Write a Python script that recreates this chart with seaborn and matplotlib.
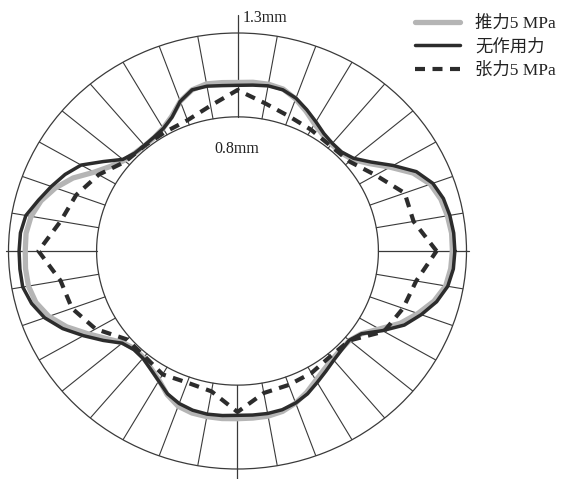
import numpy as np
import pandas as pd
import matplotlib
matplotlib.use("Agg")
import matplotlib.pyplot as plt
import seaborn as sns
from matplotlib.lines import Line2D

sns.set_style("white")
plt.rcParams['font.family'] = ['Liberation Serif', 'Noto Sans CJK SC']

# Film thickness (mm) around the circumference, angle measured counter-clockwise from +x
angles_fine = list(range(0, 360, 5))
push_5mpa = [
    1.22, 1.22, 1.21, 1.195, 1.165, 1.10, 1.00, 0.91, 0.85, 0.83, 0.83, 0.845,
    0.875, 0.92, 0.965, 1.00, 1.01, 1.01, 1.005, 1.008, 1.012, 0.995, 0.95, 0.885,
    0.845, 0.825, 0.82, 0.825, 0.84, 0.88, 0.94, 1.03, 1.10, 1.155, 1.19, 1.205,
    1.205, 1.208, 1.205, 1.185, 1.14, 1.07, 0.985, 0.91, 0.85, 0.825, 0.83, 0.855,
    0.89, 0.945, 0.985, 1.00, 1.003, 1.003, 1.00, 1.00, 1.00, 0.99, 0.965, 0.93,
    0.89, 0.86, 0.84, 0.83, 0.83, 0.86, 0.93, 1.02, 1.09, 1.155, 1.20, 1.215,
]
no_load = [
    1.234, 1.232, 1.224, 1.21, 1.18, 1.12, 1.02, 0.925, 0.86, 0.835, 0.838, 0.855,
    0.89, 0.93, 0.97, 0.995, 1.0, 0.993, 0.988, 0.99, 0.998, 0.995, 0.95, 0.88,
    0.843, 0.828, 0.822, 0.825, 0.85, 0.93, 1.025, 1.08, 1.125, 1.17, 1.22, 1.237,
    1.24, 1.24, 1.238, 1.21, 1.165, 1.095, 1.01, 0.93, 0.855, 0.832, 0.835, 0.86,
    0.895, 0.94, 0.968, 0.983, 0.988, 0.985, 0.98, 0.982, 0.984, 0.98, 0.965, 0.94,
    0.905, 0.875, 0.85, 0.835, 0.828, 0.86, 0.95, 1.045, 1.11, 1.17, 1.212, 1.23,
]
angles_coarse = list(range(0, 360, 10))
tension_5mpa = [
    1.13, 1.015, 1.01, 0.905, 0.83, 0.82, 0.835, 0.855, 0.895, 0.96, 0.88, 0.83,
    0.82, 0.82, 0.83, 0.91, 0.975, 1.02, 1.13, 1.02, 1.00, 0.93, 0.82, 0.82,
    0.85, 0.835, 0.85, 0.96, 0.86, 0.85, 0.84, 0.82, 0.83, 0.96, 1.00, 1.03,
]

series_labels = ["推力5 MPa", "无作用力", "张力5 MPa"]
r_inner, r_outer = 0.8, 1.3
spoke_step = 10


def closed_frame(angles_deg, radii):
    theta = np.deg2rad(list(angles_deg) + [angles_deg[0] + 360])
    r = list(radii) + [radii[0]]
    return pd.DataFrame({"theta": theta, "r": r})


W, H = 565, 479
fig = plt.figure(figsize=(W / 100, H / 100), dpi=100)
cx, cy = 237.5, 251.0
rx, ry = 229.0, 218.0
ax = fig.add_axes([(cx - rx) / W, (H - cy - ry) / H, 2 * rx / W, 2 * ry / H],
                  projection="polar")
ax.set_aspect("auto")
ax.set_ylim(0, r_outer)
ax.set_xticks([])
ax.set_yticks([])
ax.grid(False)
ax.spines["polar"].set_color("#3a3a3a")
ax.spines["polar"].set_linewidth(0.9)

grid_col = "#3a3a3a"
# inner reference circle
tt = np.linspace(0, 2 * np.pi, 721)
ax.plot(tt, np.full_like(tt, r_inner), color=grid_col, lw=0.9, zorder=1)
# radial spokes between the two circles
for a in range(0, 360, spoke_step):
    th = np.deg2rad(a)
    if a in (0, 90, 180, 270):
        continue
    ax.plot([th, th], [r_inner, r_outer], color=grid_col, lw=0.8, zorder=1)
# main axes extending past the outer circle
ax.plot([np.pi / 2] * 2, [r_inner, 1.41], color=grid_col, lw=0.9, clip_on=False, zorder=1)
ax.plot([3 * np.pi / 2] * 2, [r_inner, 1.5], color=grid_col, lw=0.9, clip_on=False, zorder=1)
ax.plot([0, 0], [r_inner, 1.315], color=grid_col, lw=0.9, clip_on=False, zorder=1)
ax.plot([np.pi] * 2, [r_inner, 1.315], color=grid_col, lw=0.9, clip_on=False, zorder=1)

gray_col = "#b5b5b5"
dark_col = "#2c2c2c"
dash_pat = (0, (2.4, 1.8))

sns.lineplot(data=closed_frame(angles_fine, push_5mpa), x="theta", y="r", ax=ax,
             sort=False, color=gray_col, linewidth=3.8, zorder=3)
sns.lineplot(data=closed_frame(angles_fine, no_load), x="theta", y="r", ax=ax,
             sort=False, color=dark_col, linewidth=2.5, zorder=4)
sns.lineplot(data=closed_frame(angles_coarse, tension_5mpa), x="theta", y="r", ax=ax,
             sort=False, color=dark_col, linewidth=3.0, linestyle=dash_pat, zorder=5)
ax.set_xlabel("")
ax.set_ylabel("")

fig.text(243 / W, 1 - 18 / H, "1.3mm", fontsize=11.5, color="#222222",
         ha="left", va="center")
fig.text(237 / W, 1 - 149 / H, "0.8mm", fontsize=11.5, color="#222222",
         ha="center", va="center")

handles = [
    Line2D([], [], color=gray_col, lw=3.8),
    Line2D([], [], color=dark_col, lw=2.5),
    Line2D([], [], color=dark_col, lw=3.0, linestyle=dash_pat),
]
fig.legend(handles, series_labels, loc="upper left",
           bbox_to_anchor=(415 / W, 1 - 16 / H), frameon=False, fontsize=12.5,
           handlelength=2.6, handletextpad=0.85, labelspacing=0.4,
           borderaxespad=0, borderpad=0, labelcolor="#222222")

fig.savefig("out.png", dpi=100, facecolor="white")
